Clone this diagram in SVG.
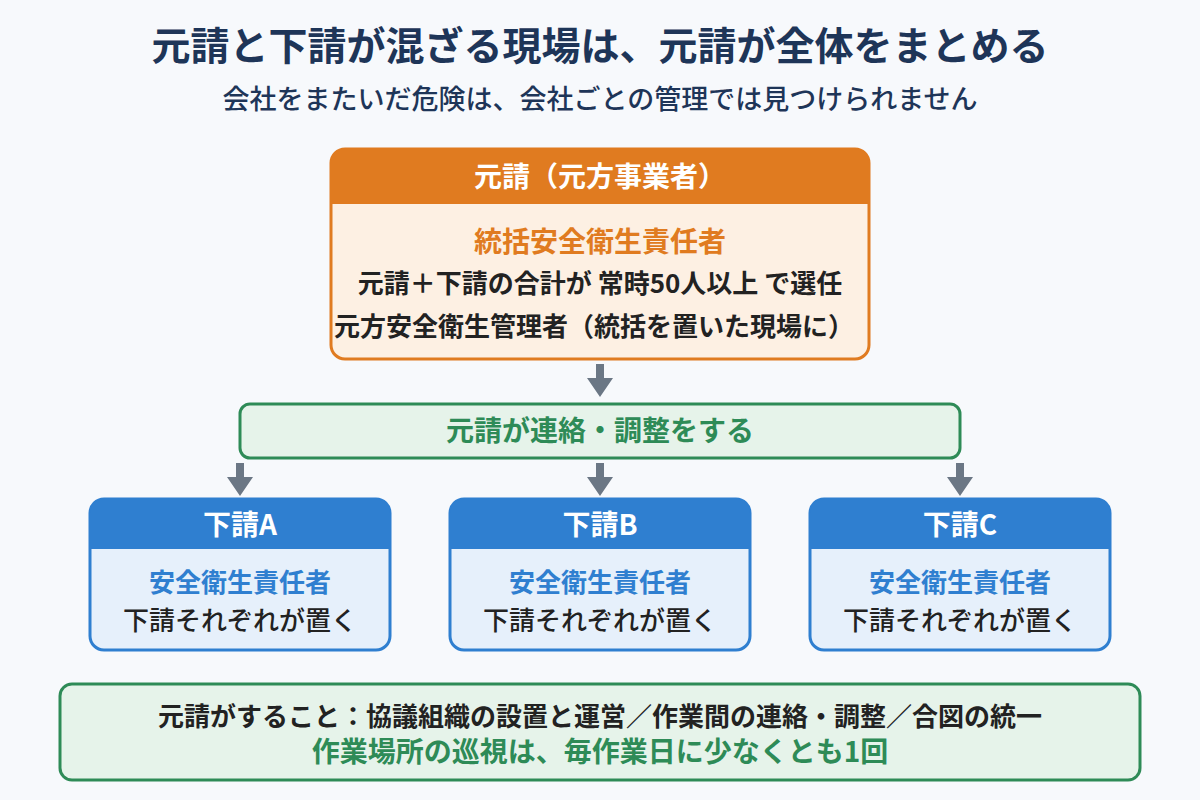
<svg xmlns="http://www.w3.org/2000/svg" width="1200" height="800" viewBox="0 0 1200 800">
<style>
text{font-family:"Noto Sans CJK JP","Noto Sans",sans-serif;text-anchor:middle}
.t{font-size:39px;font-weight:700;fill:#1e3558}
.s{font-size:27px;font-weight:500;fill:#1e3558}
.hw{font-size:28px;font-weight:700;fill:#fff}
.dk{font-size:26px;font-weight:700;fill:#222}
.dn{font-size:26px;font-weight:500;fill:#222}
.or{font-size:28px;font-weight:700;fill:#e07b20}
.bl{font-size:26px;font-weight:700;fill:#2f7fd0}
.gr{font-size:28px;font-weight:700;fill:#2e8b57}
.arr{fill:#6b7785}
</style>
<rect width="1200" height="800" fill="#f7f9fc"/>
<text class="t" x="600" y="60">元請と下請が混ざる現場は、元請が全体をまとめる</text>
<text class="s" x="600" y="109">会社をまたいだ危険は、会社ごとの管理では見つけられません</text>
<g id="connectors">
<path class="arr" d="M596 364h8v14h9l-13 19l-13-19h9z"/>
<path class="arr" d="M236 463h8v14h9l-13 19l-13-19h9z"/>
<path class="arr" d="M596 463h8v14h9l-13 19l-13-19h9z"/>
<path class="arr" d="M956 463h8v14h9l-13 19l-13-19h9z"/>
</g>
<g id="motouke">
<rect x="331" y="149" width="538" height="210" rx="14" fill="#fdf0e3" stroke="#e07b20" stroke-width="3"/>
<path d="M331 204V163a14 14 0 0 1 14-14h510a14 14 0 0 1 14 14v41z" fill="#e07b20"/>
<text class="hw" x="600" y="187">元請（元方事業者）</text>
<text class="or" x="600" y="252">統括安全衛生責任者</text>
<text class="dk" x="600" y="293">元請＋下請の合計が 常時50人以上 で選任</text>
<text class="dk" x="594" y="336">元方安全衛生管理者（統括を置いた現場に）</text>
</g>
<g id="renraku">
<rect x="240" y="404" width="720" height="54" rx="10" fill="#e6f3ea" stroke="#2e8b57" stroke-width="3"/>
<text class="gr" x="600" y="441">元請が連絡・調整をする</text>
</g>
<g id="shitaukeA">
<rect x="90" y="499" width="300" height="151" rx="14" fill="#e6f0fb" stroke="#2f7fd0" stroke-width="3"/>
<path d="M90 549V513a14 14 0 0 1 14-14h272a14 14 0 0 1 14 14v36z" fill="#2f7fd0"/>
<text class="hw" x="240" y="535">下請A</text>
<text class="bl" x="240" y="592">安全衛生責任者</text>
<text class="dn" x="240" y="630">下請それぞれが置く</text>
</g>
<g id="shitaukeB">
<rect x="450" y="499" width="300" height="151" rx="14" fill="#e6f0fb" stroke="#2f7fd0" stroke-width="3"/>
<path d="M450 549V513a14 14 0 0 1 14-14h272a14 14 0 0 1 14 14v36z" fill="#2f7fd0"/>
<text class="hw" x="600" y="535">下請B</text>
<text class="bl" x="600" y="592">安全衛生責任者</text>
<text class="dn" x="600" y="630">下請それぞれが置く</text>
</g>
<g id="shitaukeC">
<rect x="810" y="499" width="300" height="151" rx="14" fill="#e6f0fb" stroke="#2f7fd0" stroke-width="3"/>
<path d="M810 549V513a14 14 0 0 1 14-14h272a14 14 0 0 1 14 14v36z" fill="#2f7fd0"/>
<text class="hw" x="960" y="535">下請C</text>
<text class="bl" x="960" y="592">安全衛生責任者</text>
<text class="dn" x="960" y="630">下請それぞれが置く</text>
</g>
<g id="summary">
<rect x="60" y="684" width="1080" height="96" rx="12" fill="#e6f3ea" stroke="#2e8b57" stroke-width="3"/>
<text class="dk" x="600" y="726">元請がすること：協議組織の設置と運営／作業間の連絡・調整／合図の統一</text>
<text class="gr" x="600" y="762">作業場所の巡視は、毎作業日に少なくとも1回</text>
</g>
</svg>
